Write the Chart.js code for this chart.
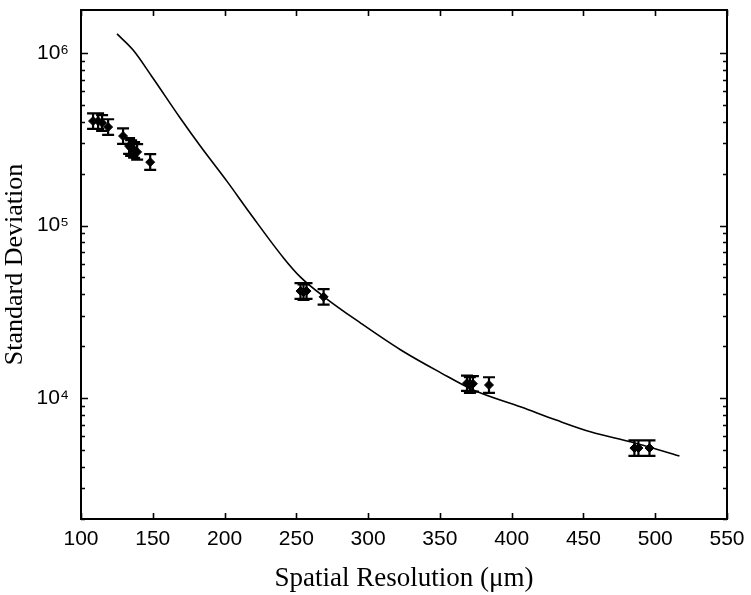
<!DOCTYPE html>
<html>
<head>
<meta charset="utf-8">
<script src="https://cdn.jsdelivr.net/npm/chart.js@4/dist/chart.umd.min.js"></script>
<style>
  html, body { margin: 0; padding: 0; background: #fff; }
  #wrap { width: 751px; height: 595px; }
</style>
</head>
<body>
<div id="wrap"><canvas id="c" width="751" height="595"></canvas></div>
<script>
// ---- Data ----
const curveX = [125.1, 136.3, 149.6, 169.1, 183.1, 202.0, 218.0, 241.1, 252.9, 270.4, 294.8, 322.8, 350.7, 373.7, 406.6, 431.0, 455.4, 483.4, 516.9];
const curveY = [1.29e6, 1.04e6, 7.26e5, 4.20e5, 2.89e5, 1.79e5, 1.17e5, 6.49e4, 5.02e4, 3.80e4, 2.72e4, 1.90e4, 1.40e4, 1.11e4, 8.87e3, 7.45e3, 6.35e3, 5.56e3, 4.61e3];

const pointX  = [108.4, 111.9, 114.7, 118.9, 129.3, 133.5, 134.9, 137.0, 139.1, 148.2, 252.9, 255.0, 257.1, 269.0, 368.9, 370.9, 373.0, 384.2, 485.5, 488.3, 496.0];
const pointY  = [4.03e5, 4.03e5, 3.93e5, 3.72e5, 3.30e5, 2.89e5, 2.81e5, 2.74e5, 2.67e5, 2.33e5, 4.17e4, 4.11e4, 4.17e4, 3.86e4, 1.22e4, 1.19e4, 1.21e4, 1.19e4, 5.13e3, 5.13e3, 5.13e3];
const pointHi = [4.47e5, 4.47e5, 4.36e5, 4.13e5, 3.66e5, 3.21e5, 3.12e5, 3.04e5, 2.96e5, 2.59e5, 4.63e4, 4.56e4, 4.63e4, 4.28e4, 1.35e4, 1.32e4, 1.34e4, 1.32e4, 5.69e3, 5.69e3, 5.69e3];
const pointLo = [3.63e5, 3.63e5, 3.54e5, 3.35e5, 2.97e5, 2.60e5, 2.53e5, 2.47e5, 2.41e5, 2.10e5, 3.76e4, 3.70e4, 3.76e4, 3.48e4, 1.10e4, 1.07e4, 1.09e4, 1.07e4, 4.62e3, 4.62e3, 4.62e3];

const xTicks = [100, 150, 200, 250, 300, 350, 400, 450, 500, 550];
const yTickValues = [2000, 3000, 4000, 5000, 6000, 7000, 8000, 9000,
                     10000, 20000, 30000, 40000, 50000, 60000, 70000, 80000, 90000,
                     100000, 200000, 300000, 400000, 500000, 600000, 700000, 800000, 900000,
                     1000000];
const yTickLabels = { 10000: '10\u2074', 100000: '10\u2075', 1000000: '10\u2076' };

const xTitle = 'Spatial Resolution (\u03bcm)';
const yTitle = 'Standard Deviation';

// ---- Plugins ----
const framePlugin = {
  id: 'frame',
  afterDatasetsDraw(chart) {
    const ctx = chart.ctx;
    const a = chart.chartArea;
    const xs = chart.scales.x, ys = chart.scales.y;
    ctx.save();
    ctx.strokeStyle = '#000';
    ctx.lineWidth = 1.6;
    ctx.beginPath();
    xTicks.forEach(v => {
      const px = Math.round(xs.getPixelForValue(v)) + 0.5;
      ctx.moveTo(px, a.bottom); ctx.lineTo(px, a.bottom - 6);
      ctx.moveTo(px, a.top); ctx.lineTo(px, a.top + 6);
    });
    yTickValues.forEach(v => {
      const py = Math.round(ys.getPixelForValue(v)) + 0.5;
      const len = yTickLabels[v] ? 7 : 4;
      ctx.moveTo(a.left, py); ctx.lineTo(a.left + len, py);
      ctx.moveTo(a.right, py); ctx.lineTo(a.right - len, py);
    });
    ctx.stroke();
    ctx.lineWidth = 2;
    ctx.strokeRect(a.left, a.top, a.right - a.left, a.bottom - a.top);
    ctx.restore();
  }
};

const errorBarPlugin = {
  id: 'errbars',
  afterDatasetsDraw(chart) {
    const ctx = chart.ctx;
    const xs = chart.scales.x, ys = chart.scales.y;
    ctx.save();
    ctx.strokeStyle = '#000';
    ctx.lineWidth = 2.2;
    ctx.beginPath();
    for (let i = 0; i < pointX.length; i++) {
      const px = xs.getPixelForValue(pointX[i]);
      const yh = ys.getPixelForValue(pointHi[i]);
      const yl = ys.getPixelForValue(pointLo[i]);
      ctx.moveTo(px, yh); ctx.lineTo(px, yl);
      ctx.moveTo(px - 6, yh); ctx.lineTo(px + 6, yh);
      ctx.moveTo(px - 6, yl); ctx.lineTo(px + 6, yl);
    }
    ctx.stroke();
    ctx.restore();
  }
};

// ---- Chart ----
new Chart(document.getElementById('c'), {
  type: 'scatter',
  data: {
    datasets: [
      {
        type: 'line',
        data: curveX.map((x, i) => ({ x: x, y: curveY[i] })),
        borderColor: '#000',
        borderWidth: 1.6,
        pointRadius: 0,
        fill: false,
        cubicInterpolationMode: 'monotone',
        order: 2
      },
      {
        data: pointX.map((x, i) => ({ x: x, y: pointY[i] })),
        pointStyle: 'rectRot',
        pointRadius: 4.5,
        backgroundColor: '#000',
        borderColor: '#000',
        borderWidth: 1,
        order: 1
      }
    ]
  },
  options: {
    responsive: false,
    animation: false,
    devicePixelRatio: 1,
    layout: { autoPadding: false, padding: { left: 0, top: 10, right: 24, bottom: 0 } },
    plugins: { legend: { display: false }, tooltip: { enabled: false } },
    scales: {
      x: {
        type: 'linear',
        min: 100, max: 550,
        afterBuildTicks: s => { s.ticks = xTicks.map(v => ({ value: v })); },
        afterFit: s => { s.height = 76; s.paddingLeft = 0; s.paddingRight = 0; },
        grid: { display: false, drawTicks: false },
        border: { display: false },
        ticks: {
          color: '#000',
          padding: 8,
          autoSkip: false,
          maxRotation: 0,
          font: { family: '"Liberation Sans Narrow", "Liberation Sans", Arial, sans-serif', size: 21 }
        },
        title: {
          display: true,
          text: xTitle,
          color: '#000',
          padding: { top: 2, bottom: 0 },
          font: { family: '"Liberation Serif", "Times New Roman", serif', size: 27 }
        }
      },
      y: {
        type: 'logarithmic',
        min: 1990, max: 1775000,
        afterBuildTicks: s => { s.ticks = yTickValues.map(v => ({ value: v })); },
        afterFit: s => { s.width = 81; s.paddingTop = 0; s.paddingBottom = 0; },
        grid: { display: false, drawTicks: false },
        border: { display: false },
        ticks: {
          color: '#000',
          padding: 12,
          autoSkip: false,
          font: { family: '"Liberation Sans Narrow", "Liberation Sans", Arial, sans-serif', size: 21 },
          callback: v => yTickLabels[v] || ''
        },
        title: {
          display: true,
          text: yTitle,
          color: '#000',
          padding: { top: 0, bottom: 0 },
          font: { family: '"Liberation Serif", "Times New Roman", serif', size: 26 }
        }
      }
    }
  },
  plugins: [framePlugin, errorBarPlugin]
});
</script>
</body>
</html>
